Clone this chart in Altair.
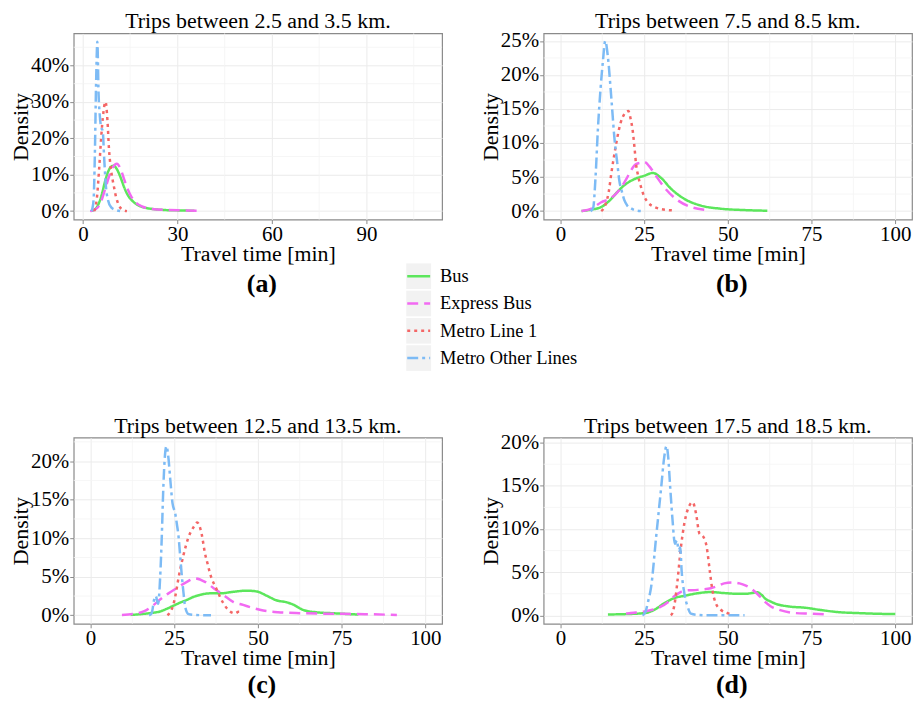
import altair as alt
import pandas as pd

FONT = "Liberation Serif"

SERIES = ["Bus", "Express Bus", "Metro Line 1", "Metro Other Lines"]
COLORS = ["#5CE65C", "#F26AF2", "#F46666", "#7DBBF5"]
DASHES = [[1, 0], [11, 6], [3, 4], [11, 4, 3, 4]]

# ---------------- Panel (a): trips between 2.5 and 3.5 km ----------------
A_BUS_X = [2.6, 4.0, 5.0, 6.0, 7.0, 8.0, 9.0, 9.8, 10.8, 12.0, 13.0, 14.0, 15.5, 17.0, 19.0, 22.0, 26.0, 30.0, 35.4]
A_BUS_Y = [0.0, 0.006, 0.02, 0.045, 0.08, 0.108, 0.122, 0.125, 0.115, 0.092, 0.068, 0.048, 0.03, 0.019, 0.011, 0.006, 0.003, 0.002, 0.001]
A_EXP_X = [2.3, 4.0, 5.5, 7.0, 8.5, 9.5, 10.8, 12.0, 13.0, 14.0, 15.5, 17.0, 19.0, 22.0, 27.0, 32.0, 36.6]
A_EXP_Y = [0.0, 0.005, 0.02, 0.058, 0.1, 0.12, 0.13, 0.115, 0.09, 0.065, 0.038, 0.022, 0.012, 0.006, 0.003, 0.002, 0.001]
A_M1_X = [3.6, 4.5, 5.2, 5.8, 6.5, 7.2, 7.8, 8.3, 9.0, 9.8, 10.5, 11.5, 12.8, 14.0]
A_M1_Y = [0.0, 0.04, 0.12, 0.2, 0.27, 0.30, 0.25, 0.17, 0.11, 0.07, 0.04, 0.015, 0.003, 0.0]
A_MO_X = [2.8, 3.4, 3.8, 4.2, 4.6, 5.0, 5.4, 5.8, 6.3, 6.8, 7.3, 8.0, 9.0, 10.5, 12.0]
A_MO_Y = [0.0, 0.03, 0.15, 0.35, 0.465, 0.32, 0.26, 0.23, 0.22, 0.14, 0.07, 0.03, 0.01, 0.003, 0.0]

# ---------------- Panel (b): trips between 7.5 and 8.5 km ----------------
B_BUS_X = [6.3, 9.0, 12.2, 15.2, 17.0, 19.1, 22.1, 25.1, 27.6, 30.0, 33.0, 37.0, 42.0, 47.9, 54.9, 61.8]
B_BUS_Y = [0.0, 0.002, 0.006, 0.018, 0.028, 0.038, 0.047, 0.052, 0.056, 0.049, 0.033, 0.018, 0.008, 0.0035, 0.0015, 0.0005]
B_EXP_X = [6.3, 9.5, 12.2, 14.7, 16.5, 18.2, 19.8, 21.1, 22.6, 24.0, 25.1, 26.5, 28.1, 31.0, 35.0, 39.0, 43.0]
B_EXP_Y = [0.0, 0.004, 0.013, 0.018, 0.025, 0.035, 0.048, 0.06, 0.069, 0.071, 0.072, 0.066, 0.055, 0.035, 0.016, 0.006, 0.002]
B_M1_X = [12.2, 13.5, 14.5, 15.2, 16.0, 16.7, 17.5, 18.5, 20.3, 21.0, 21.6, 22.1, 22.6, 23.3, 24.1, 25.0, 26.1, 28.1, 30.0, 33.5]
B_M1_Y = [0.0, 0.01, 0.03, 0.055, 0.08, 0.1, 0.12, 0.137, 0.147, 0.135, 0.118, 0.095, 0.069, 0.05, 0.035, 0.022, 0.013, 0.006, 0.003, 0.001]
B_MO_X = [9.0, 9.8, 10.5, 11.2, 12.0, 12.7, 13.4, 14.2, 15.2, 16.2, 17.0, 17.6, 18.4, 19.1, 20.0, 21.1, 22.5, 24.0]
B_MO_Y = [0.0, 0.005, 0.05, 0.12, 0.18, 0.22, 0.25, 0.226, 0.167, 0.104, 0.07, 0.045, 0.028, 0.016, 0.008, 0.004, 0.001, 0.0]

# ---------------- Panel (c): trips between 12.5 and 13.5 km ----------------
C_BUS_X = [12.0, 15.0, 18.0, 20.8, 22.8, 24.8, 26.8, 28.8, 30.8, 32.7, 35.7, 38.7, 42.6, 46.6, 49.6, 52.6, 55.5, 58.5, 60.5, 63.5, 67.4, 73.4, 80.0]
C_BUS_Y = [0.0005, 0.0015, 0.003, 0.005, 0.0085, 0.0125, 0.0165, 0.02, 0.024, 0.0265, 0.0285, 0.0285, 0.0305, 0.032, 0.031, 0.0255, 0.0195, 0.017, 0.014, 0.007, 0.004, 0.0025, 0.001]
C_EXP_X = [9.4, 13.0, 15.9, 18.3, 20.8, 23.3, 25.8, 28.8, 31.2, 34.2, 36.7, 39.7, 42.6, 45.6, 48.6, 51.6, 56.0, 62.5, 70.0, 75.4, 82.0, 91.5]
C_EXP_Y = [0.0005, 0.002, 0.005, 0.0115, 0.0205, 0.0285, 0.0355, 0.0435, 0.048, 0.0435, 0.0355, 0.0265, 0.0175, 0.0135, 0.0095, 0.0063, 0.004, 0.0028, 0.0022, 0.002, 0.0015, 0.0005]
C_M1_X = [23.0, 24.0, 24.8, 25.5, 26.3, 27.8, 29.3, 30.8, 31.9, 32.6, 33.2, 34.2, 35.0, 35.7, 37.7, 39.7, 41.7, 43.2, 44.2, 45.1]
C_M1_Y = [0.0, 0.0055, 0.0145, 0.0285, 0.0485, 0.0785, 0.1015, 0.1145, 0.1205, 0.1155, 0.1055, 0.0805, 0.0665, 0.0545, 0.0335, 0.0155, 0.005, 0.0025, 0.0045, 0.0045]
C_MO_X = [17.5, 18.3, 19.0, 19.5, 20.2, 20.8, 21.3, 21.7, 22.1, 22.7, 23.3, 23.8, 24.5, 25.3, 25.8, 26.3, 26.8, 27.3, 27.8, 28.3, 29.3, 31.0, 36.0]
C_MO_Y = [0.0, 0.003, 0.02, 0.025, 0.015, 0.048, 0.102, 0.158, 0.198, 0.2195, 0.2035, 0.178, 0.1455, 0.1325, 0.1185, 0.1025, 0.0765, 0.0505, 0.0285, 0.0105, 0.0015, 0.0005, 0.0]

# ---------------- Panel (d): trips between 17.5 and 18.5 km ----------------
D_BUS_X = [14.2, 20.0, 25.1, 28.1, 31.0, 34.0, 37.0, 41.0, 44.9, 48.9, 52.9, 55.4, 57.5, 58.8, 60.0, 61.3, 62.8, 64.3, 68.2, 73.2, 77.2, 83.1, 89.1, 95.0, 100.0]
D_BUS_Y = [0.001, 0.0015, 0.0026, 0.0065, 0.014, 0.020, 0.0226, 0.0256, 0.027, 0.0258, 0.025, 0.025, 0.026, 0.0267, 0.024, 0.019, 0.016, 0.0134, 0.0103, 0.0088, 0.0065, 0.0037, 0.0026, 0.0018, 0.0015]
D_EXP_X = [19.6, 22.0, 25.1, 28.0, 30.0, 32.0, 34.0, 35.5, 37.0, 41.0, 44.9, 47.0, 48.9, 51.4, 53.5, 55.4, 57.0, 58.3, 59.8, 61.3, 63.0, 65.3, 70.2, 75.2, 80.0]
D_EXP_Y = [0.002, 0.003, 0.0046, 0.007, 0.010, 0.015, 0.022, 0.026, 0.0287, 0.0295, 0.0313, 0.034, 0.037, 0.038, 0.037, 0.0344, 0.031, 0.0267, 0.021, 0.015, 0.010, 0.0065, 0.0026, 0.002, 0.001]
D_M1_X = [33.0, 33.5, 34.3, 35.0, 36.0, 37.0, 38.5, 39.5, 40.5, 41.5, 42.7, 43.7, 44.6, 45.4, 46.4, 47.9, 49.9, 51.0]
D_M1_Y = [0.0, 0.003, 0.018, 0.041, 0.079, 0.106, 0.127, 0.131, 0.118, 0.095, 0.091, 0.079, 0.052, 0.029, 0.014, 0.0065, 0.0026, 0.001]
D_MO_X = [24.5, 25.3, 26.2, 27.1, 28.6, 30.1, 31.0, 31.7, 32.2, 32.8, 33.5, 34.2, 34.8, 35.3, 35.8, 36.2, 37.0, 38.0, 39.0, 41.0, 44.0, 55.0]
D_MO_Y = [0.0, 0.003, 0.016, 0.033, 0.091, 0.148, 0.183, 0.196, 0.183, 0.148, 0.110, 0.083, 0.087, 0.075, 0.079, 0.052, 0.026, 0.010, 0.002, 0.0005, 0.0, 0.0]

X_TICKS_30 = [0, 30, 60, 90]
X_MINOR_30 = [15, 45, 75, 105]
X_TICKS_25 = [0, 25, 50, 75, 100]
X_MINOR_25 = [12.5, 37.5, 62.5, 87.5]

PW = 370
PH = 187
LEG_H = 129

color_scale = alt.Scale(domain=SERIES, range=COLORS)
dash_scale = alt.Scale(domain=SERIES, range=DASHES)


def make_df(groups):
    rows = []
    for name, xs, ys in groups:
        for x, y in zip(xs, ys):
            rows.append({"series": name, "x": x, "y": y})
    return pd.DataFrame(rows)


def panel(df, title, xdom, xticks, xminor, ydom, yticks, yminor, label, label_dy):
    xs = alt.Scale(domain=xdom, nice=False, zero=False)
    ys = alt.Scale(domain=ydom, nice=False, zero=False)
    xax = alt.Axis(values=xticks, title="Travel time [min]", labelFlush=False)
    yax = alt.Axis(values=yticks, format=".0%", title="Density", labelFlush=False)
    minor_x = alt.Chart(pd.DataFrame({"x": xminor})).mark_rule(
        color="#F4F4F4", strokeWidth=0.8
    ).encode(x=alt.X("x:Q", scale=xs, axis=xax))
    minor_y = alt.Chart(pd.DataFrame({"y": yminor})).mark_rule(
        color="#F4F4F4", strokeWidth=0.8
    ).encode(y=alt.Y("y:Q", scale=ys, axis=yax))
    lines = alt.Chart(df).mark_line(strokeWidth=2.5, interpolate="monotone", clip=True).encode(
        x=alt.X("x:Q", scale=xs, axis=xax),
        y=alt.Y("y:Q", scale=ys, axis=yax),
        color=alt.Color("series:N", scale=color_scale, legend=None),
        strokeDash=alt.StrokeDash("series:N", scale=dash_scale, legend=None),
    )
    ttl = alt.Chart(pd.DataFrame({"t": [title]})).mark_text(
        font=FONT, fontSize=22, color="black", baseline="middle"
    ).encode(text="t:N", x=alt.value(PW / 2), y=alt.value(-12))
    lab = alt.Chart(pd.DataFrame({"t": [label]})).mark_text(
        font=FONT, fontSize=26, fontWeight="bold", color="black", baseline="middle"
    ).encode(text="t:N", x=alt.value(PW / 2 + 4), y=alt.value(PH + label_dy))
    return alt.layer(minor_x, minor_y, lines, ttl, lab).properties(width=PW, height=PH)


df_a = make_df([("Bus", A_BUS_X, A_BUS_Y), ("Express Bus", A_EXP_X, A_EXP_Y),
                ("Metro Line 1", A_M1_X, A_M1_Y), ("Metro Other Lines", A_MO_X, A_MO_Y)])
df_b = make_df([("Bus", B_BUS_X, B_BUS_Y), ("Express Bus", B_EXP_X, B_EXP_Y),
                ("Metro Line 1", B_M1_X, B_M1_Y), ("Metro Other Lines", B_MO_X, B_MO_Y)])
df_c = make_df([("Bus", C_BUS_X, C_BUS_Y), ("Express Bus", C_EXP_X, C_EXP_Y),
                ("Metro Line 1", C_M1_X, C_M1_Y), ("Metro Other Lines", C_MO_X, C_MO_Y)])
df_d = make_df([("Bus", D_BUS_X, D_BUS_Y), ("Express Bus", D_EXP_X, D_EXP_Y),
                ("Metro Line 1", D_M1_X, D_M1_Y), ("Metro Other Lines", D_MO_X, D_MO_Y)])

pa = panel(df_a, "Trips between 2.5 and 3.5 km.", [-2.9, 114.0], X_TICKS_30, X_MINOR_30,
           [-0.0233, 0.488], [0, 0.1, 0.2, 0.3, 0.4], [0.05, 0.15, 0.25, 0.35, 0.45], "(a)", 65)
pb = panel(df_b, "Trips between 7.5 and 8.5 km.", [-5, 105], X_TICKS_25, X_MINOR_25,
           [-0.0125, 0.261], [0, 0.05, 0.1, 0.15, 0.2, 0.25],
           [0.025, 0.075, 0.125, 0.175, 0.225], "(b)", 65)
pc = panel(df_c, "Trips between 12.5 and 13.5 km.", [-5, 105], X_TICKS_25, X_MINOR_25,
           [-0.011, 0.2305], [0, 0.05, 0.1, 0.15, 0.2],
           [0.025, 0.075, 0.125, 0.175, 0.225], "(c)", 61)
pdd = panel(df_d, "Trips between 17.5 and 18.5 km.", [-5, 105], X_TICKS_25, X_MINOR_25,
            [-0.0098, 0.2058], [0, 0.05, 0.1, 0.15, 0.2],
            [0.025, 0.075, 0.125, 0.175], "(d)", 61)

# ---------------- custom legend (cell below panel a, drawn across the gap) ----------------
leg_df = pd.DataFrame({"series": SERIES})
leg_y = alt.Scale(domain=SERIES, range=[-1, 107], paddingInner=0.06, paddingOuter=0.0)
leg_box = alt.Chart(leg_df).mark_rect(color="#F2F2F2").encode(
    y=alt.Y("series:N", scale=leg_y, axis=None),
    x=alt.value(334), x2=alt.value(359),
)
leg_line = alt.Chart(leg_df).mark_rule(strokeWidth=2.5).encode(
    y=alt.Y("series:N", scale=leg_y, axis=None, bandPosition=0.5),
    x=alt.value(335), x2=alt.value(358),
    color=alt.Color("series:N", scale=color_scale, legend=None),
    strokeDash=alt.StrokeDash("series:N", scale=dash_scale, legend=None),
)
leg_text = alt.Chart(leg_df).mark_text(
    align="left", baseline="middle", font=FONT, fontSize=18.5, color="black"
).encode(
    y=alt.Y("series:N", scale=leg_y, axis=None, bandPosition=0.5),
    x=alt.value(368),
    text="series:N",
)
legend = alt.layer(leg_box, leg_line, leg_text).properties(
    width=PW, height=LEG_H, view=alt.ViewConfig(stroke="transparent")
)
blank = alt.Chart(pd.DataFrame({"t": [""]})).mark_text().encode(text="t:N").properties(
    width=PW, height=LEG_H, view=alt.ViewConfig(stroke="transparent")
)

chart = alt.concat(
    pa, pb, legend, blank, pc, pdd, columns=2,
    spacing={"row": 45, "column": 102}, bounds="flush",
).properties(
    padding={"left": 0, "top": 0, "right": 0, "bottom": 0},
    background="white",
).configure_axis(
    labelFont=FONT, labelFontSize=21, labelColor="black",
    titleFont=FONT, titleFontSize=22, titleFontWeight="normal", titleColor="black",
    domain=False, tickColor="#8a8a8a", tickSize=4,
    gridColor="#EBEBEB", gridWidth=1,
).configure_axisX(
    labelPadding=0, titlePadding=-1,
).configure_axisY(
    labelPadding=1, titlePadding=-2,
).configure_view(
    stroke="#8a8a8a", strokeWidth=1.2,
)

chart.save("out.html", embed_options={"renderer": "svg", "actions": False})
